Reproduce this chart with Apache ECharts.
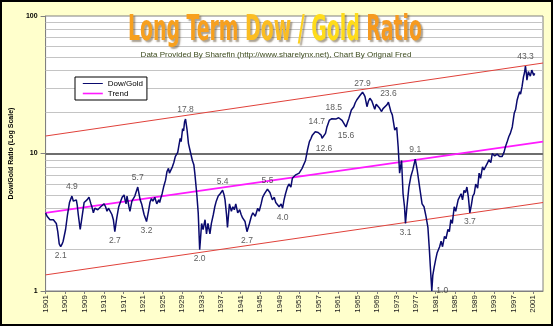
<!DOCTYPE html>
<html>
<head>
<meta charset="utf-8">
<script src="https://cdn.jsdelivr.net/npm/echarts@6/dist/echarts.min.js"></script>
<style>
  html, body { margin: 0; padding: 0; background: #FFFFCC; }
  #chart { width: 553px; height: 326px; }
</style>
</head>
<body>
<div id="chart"></div>
<script>
// Dow / Gold ratio, [year, ratio]
const dowGold = [
  [1901.0,3.7],[1901.3,3.5],[1901.6,3.4],[1901.9,3.3],[1902.2,3.2],[1902.6,3.3],[1902.9,3.2],[1903.2,3.1],
  [1903.5,2.7],[1903.8,2.2],[1904.1,2.1],[1904.4,2.2],[1904.6,2.3],[1905.1,2.8],[1905.5,3.6],[1905.9,4.4],
  [1906.1,4.6],[1906.4,4.9],[1906.7,4.5],[1906.9,4.6],[1907.3,4.6],[1907.5,4.2],[1907.7,3.6],[1908.1,2.8],
  [1908.5,3.5],[1908.9,4.4],[1909.2,4.5],[1909.5,4.6],[1909.9,4.8],[1910.3,4.3],[1910.5,4.1],[1910.8,3.7],
  [1911.1,4.0],[1911.4,4.1],[1911.7,3.9],[1912.0,3.8],[1912.3,4.1],[1912.6,4.0],[1913.0,4.3],[1913.3,4.1],
  [1913.6,3.8],[1913.9,4.0],[1914.2,4.0],[1914.6,3.6],[1914.9,3.3],[1915.2,2.7],[1915.6,3.4],[1916.0,4.1],
  [1916.4,4.5],[1916.7,4.8],[1917.1,5.0],[1917.3,4.6],[1917.5,4.3],[1917.7,4.9],[1917.9,4.8],[1918.1,4.1],
  [1918.3,3.8],[1918.7,4.5],[1919.0,4.6],[1919.3,4.9],[1919.6,5.3],[1919.9,5.7],[1920.2,5.0],[1920.4,4.6],
  [1920.7,4.3],[1920.9,4.0],[1921.2,3.6],[1921.7,3.2],[1922.1,3.8],[1922.4,4.4],[1922.7,4.7],[1923.0,4.5],
  [1923.4,4.8],[1923.8,4.3],[1924.2,4.6],[1924.4,4.4],[1924.6,4.7],[1924.9,5.1],[1925.2,5.7],[1925.6,6.4],
  [1925.9,7.4],[1926.2,7.8],[1926.4,7.2],[1926.6,7.4],[1927.0,8.0],[1927.3,8.6],[1927.6,9.5],[1927.9,9.3],
  [1928.1,10.2],[1928.3,11.2],[1928.6,12.9],[1928.8,12.2],[1929.1,15.2],[1929.3,14.6],[1929.5,17.0],[1929.7,17.8],
  [1930.0,15.0],[1930.1,14.8],[1930.3,11.8],[1930.6,10.6],[1930.9,10.9],[1931.1,8.9],[1931.4,8.3],[1931.6,7.2],
  [1932.0,5.1],[1932.3,3.7],[1932.6,2.0],[1933.0,3.1],[1933.3,2.8],[1933.7,3.3],[1934.0,2.6],[1934.3,3.1],
  [1934.7,2.6],[1935.0,3.1],[1935.4,3.6],[1935.7,4.1],[1936.0,4.5],[1936.4,4.9],[1936.8,5.1],[1937.3,5.4],
  [1937.6,5.0],[1937.8,4.6],[1938.1,3.6],[1938.3,2.9],[1938.7,4.3],[1939.1,3.8],[1939.4,4.1],[1939.7,3.9],
  [1940.0,4.3],[1940.4,3.7],[1940.8,3.9],[1941.1,3.6],[1941.4,3.4],[1941.9,3.2],[1942.3,2.7],[1942.8,3.1],
  [1943.2,3.5],[1943.5,3.7],[1944.0,3.5],[1944.5,4.0],[1944.8,3.8],[1945.2,4.3],[1945.5,4.8],[1945.9,5.1],
  [1946.5,5.5],[1947.0,5.2],[1947.5,4.6],[1947.9,4.8],[1948.2,4.4],[1948.5,4.3],[1948.9,4.1],[1949.3,4.3],
  [1949.6,4.0],[1949.9,4.6],[1950.2,5.1],[1950.6,5.7],[1950.9,6.0],[1951.3,5.7],[1951.6,6.6],[1952.0,6.4],
  [1952.3,7.0],[1952.7,6.8],[1953.0,7.2],[1953.3,7.0],[1953.6,7.8],[1954.0,7.9],[1954.3,8.9],[1954.7,10.6],
  [1955.1,12.2],[1955.4,12.8],[1955.7,13.6],[1956.0,13.9],[1956.3,14.4],[1956.6,14.7],[1956.9,14.2],[1957.2,14.3],
  [1957.5,13.6],[1957.7,12.9],[1958.1,12.6],[1958.4,14.0],[1958.7,15.6],[1959.2,17.5],[1959.7,17.9],[1960.1,18.5],
  [1960.5,17.8],[1960.8,17.5],[1961.1,18.2],[1961.4,17.9],[1961.8,17.4],[1962.1,17.0],[1962.6,15.6],[1962.9,16.8],
  [1963.2,18.0],[1963.7,20.7],[1964.2,21.9],[1964.5,23.4],[1964.8,24.5],[1965.2,25.3],[1965.5,26.5],[1966.0,27.9],
  [1966.3,26.8],[1966.5,25.9],[1966.9,21.9],[1967.2,24.0],[1967.5,25.2],[1967.9,24.1],[1968.2,23.5],[1968.5,21.0],
  [1968.8,22.8],[1969.2,22.5],[1969.5,21.3],[1969.9,20.2],[1970.2,21.2],[1970.6,21.9],[1971.0,22.6],[1971.3,23.6],
  [1971.6,21.5],[1971.8,20.2],[1972.1,19.1],[1972.3,18.5],[1972.6,14.8],[1973.0,15.5],[1973.3,11.2],[1973.6,7.2],
  [1974.0,8.9],[1974.3,5.1],[1974.6,4.1],[1974.8,3.1],[1975.1,4.1],[1975.5,5.7],[1975.9,6.8],[1976.3,7.6],
  [1976.8,9.1],[1977.2,7.6],[1977.7,5.7],[1978.2,4.3],[1978.6,4.1],[1979.0,3.5],[1979.4,2.9],[1979.7,2.0],
  [1979.9,1.5],[1980.2,1.0],[1980.4,1.3],[1980.7,1.5],[1981.0,1.7],[1981.3,1.9],[1981.8,2.1],[1982.1,2.3],
  [1982.4,2.1],[1982.8,2.5],[1983.1,2.4],[1983.5,2.8],[1983.8,2.7],[1984.1,3.3],[1984.4,3.1],[1984.8,4.1],
  [1985.1,3.8],[1985.6,4.6],[1986.2,5.1],[1986.5,4.6],[1986.8,5.4],[1987.1,5.2],[1987.4,5.7],[1987.7,4.8],
  [1988.0,3.7],[1988.3,4.2],[1988.6,4.9],[1988.9,5.1],[1989.2,6.0],[1989.6,5.6],[1989.9,7.2],[1990.2,6.6],
  [1990.6,8.0],[1990.9,7.6],[1991.2,8.0],[1991.6,8.5],[1991.9,9.0],[1992.3,8.6],[1992.6,10.0],[1993.1,9.6],
  [1993.6,9.9],[1994.1,9.5],[1994.6,9.5],[1995.0,10.2],[1995.3,11.2],[1995.6,12.0],[1996.0,13.3],[1996.3,14.0],
  [1996.7,15.6],[1996.9,17.5],[1997.1,19.6],[1997.4,21.0],[1997.7,24.5],[1997.9,26.0],[1998.2,28.1],[1998.4,27.0],
  [1998.7,30.6],[1999.0,36.1],[1999.2,38.5],[1999.4,43.3],[1999.6,38.0],[1999.7,34.2],[2000.0,39.4],[2000.4,36.5],
  [2000.7,40.4],[2001.1,37.0],[2001.3,38.2]
];

// Log-linear trend and channel bounds at the two ends of the axis
const trendYears = [1901, 2003];
const trendValues = [3.7, 12.2];
const upperChannel = [13.4, 45.5];
const lowerChannel = [1.31, 4.4];

// Turning points that carry a value callout, and where the text sits
const calloutYears = [1904.1, 1906.4, 1915.2, 1919.9, 1921.7, 1929.7, 1932.6, 1937.3, 1942.3, 1946.5, 1949.6,
  1956.6, 1958.1, 1960.1, 1962.6, 1966.0, 1971.3, 1974.8, 1976.8, 1980.2, 1988.0, 1999.4];
const calloutSides = ['bottom', 'top', 'bottom', 'top', 'bottom', 'top', 'bottom', 'top', 'bottom', 'top', 'bottom',
  'top', 'bottom', 'top', 'bottom', 'top', 'top', 'bottom', 'top', 'right', 'bottom', 'top'];

// Axis ticks
const yearTicks = [1901, 1905, 1909, 1913, 1917, 1921, 1925, 1929, 1933, 1937, 1941, 1945, 1949,
  1953, 1957, 1961, 1965, 1969, 1973, 1977, 1981, 1985, 1989, 1993, 1997, 2001];
const minorGridValues = [2, 3, 4, 5, 6, 7, 8, 9, 20, 30, 40, 50, 60, 70, 80, 90];
const majorGridValues = [10];

const FONT = '"Liberation Sans", Arial, sans-serif';

const pairUp = (xs, ys) => xs.map((x, i) => [x, ys[i]]);

const callouts = calloutYears.map((yr, i) => {
  const pt = dowGold.find(p => p[0] === yr);
  return { value: pt, label: { position: calloutSides[i] } };
});

// Banner title, squeezed horizontally into a condensed display face
const titleText = 'Long Term Dow / Gold Ratio';
const titleFont = "bold 35px 'DejaVu Sans Condensed', 'DejaVu Sans', sans-serif";
const measureCtx = document.createElement('canvas').getContext('2d');
measureCtx.font = titleFont;
const titleScale = 294 / measureCtx.measureText(titleText).width;

const richWord = (fill) => ({
  fill: fill, font: titleFont,
  textShadowColor: 'rgba(90,70,40,0.5)', textShadowBlur: 1.5,
  textShadowOffsetX: 2, textShadowOffsetY: 2
});

const chart = echarts.init(document.getElementById('chart'), null, { renderer: 'canvas' });

chart.setOption({
  animation: false,
  backgroundColor: '#FFFFCC',
  textStyle: { fontFamily: FONT },
  grid: {
    left: 41, right: 10, top: 16, bottom: 35,
    show: true, backgroundColor: '#ffffff', borderColor: '#808080', borderWidth: 1
  },
  legend: {
    data: [
      { name: 'Dow/Gold', lineStyle: { width: 1 } },
      { name: 'Trend', lineStyle: { width: 1.6 } }
    ],
    orient: 'vertical',
    left: 75, top: 77,
    itemWidth: 20, itemHeight: 8, itemGap: 1,
    padding: [2, 4, 2, 7],
    borderColor: '#000', borderWidth: 1, borderRadius: 0,
    backgroundColor: '#ffffff',
    itemStyle: { opacity: 0 },
    textStyle: { fontFamily: FONT, fontSize: 8, color: '#000', lineHeight: 9 }
  },
  xAxis: {
    type: 'value', min: 1901, max: 2003,
    axisLine: { show: true, lineStyle: { color: '#808080' } },
    axisTick: { show: true, customValues: yearTicks, length: 3, lineStyle: { color: '#808080' } },
    axisLabel: {
      customValues: yearTicks, rotate: 90, fontSize: 8, color: '#222', margin: 4, fontFamily: FONT,
      formatter: v => String(Math.round(v))
    },
    splitLine: { show: false }
  },
  yAxis: {
    type: 'log', logBase: 10, min: 1, max: 100,
    name: 'Dow/Gold Ratio (Log Scale)', nameLocation: 'middle', nameRotate: 90, nameGap: 22,
    nameTextStyle: { fontSize: 7, fontWeight: 'bold', color: '#000', fontFamily: FONT },
    axisLine: { show: true, lineStyle: { color: '#808080' } },
    axisTick: { show: true, length: 5, lineStyle: { color: '#808080' } },
    axisLabel: { fontSize: 7, fontWeight: 'bold', color: '#000', margin: 8, fontFamily: FONT },
    splitLine: { show: false }
  },
  series: [
    {
      name: 'Lower channel', type: 'line', silent: true, symbol: 'none',
      data: pairUp(trendYears, lowerChannel),
      lineStyle: { color: '#e0413a', width: 1 },
      markLine: {
        z: 1, silent: true, symbol: ['none', 'none'], label: { show: false },
        lineStyle: { color: '#c4c4c4', width: 1, type: 'solid' },
        data: minorGridValues.map(v => ({ yAxis: v })).concat(
          majorGridValues.map(v => ({ yAxis: v, lineStyle: { color: '#6e6e6e', width: 2, type: 'solid' } })))
      }
    },
    {
      name: 'Upper channel', type: 'line', silent: true, symbol: 'none',
      data: pairUp(trendYears, upperChannel),
      lineStyle: { color: '#e0413a', width: 1 }
    },
    {
      name: 'Trend', type: 'line', silent: true, symbol: 'none',
      data: pairUp(trendYears, trendValues),
      itemStyle: { color: '#ff1aff' },
      lineStyle: { color: '#ff1aff', width: 2 }
    },
    {
      name: 'Dow/Gold', type: 'line', symbol: 'none', z: 3,
      data: dowGold,
      itemStyle: { color: '#0a0a6e' },
      lineStyle: { color: '#0a0a6e', width: 1.5 }
    },
    {
      name: 'Callouts', type: 'scatter', z: 4, silent: true,
      symbolSize: 1, itemStyle: { color: 'rgba(0,0,0,0)' },
      data: callouts,
      label: {
        show: true, distance: 4, fontSize: 8.5, color: '#333', fontFamily: FONT,
        formatter: p => p.value[1].toFixed(1)
      }
    }
  ],
  graphic: [
    {
      type: 'text', z: 20, silent: true,
      x: 275, y: 31, scaleX: titleScale, scaleY: 1,
      style: {
        text: '{a|Long Term }{b|Dow }{c|/ }{d|Gold }{e|Ratio}',
        font: titleFont,
        align: 'center', verticalAlign: 'middle',
        textAlign: 'center', textVerticalAlign: 'middle',
        rich: {
          a: richWord('#f7a01e'),
          b: richWord('#fbbd22'),
          c: richWord('#fdd01e'),
          d: richWord('#ffdc1a'),
          e: richWord('#f69a1f')
        }
      }
    },
    {
      type: 'text', z: 20, silent: true,
      x: 276, y: 55,
      style: {
        text: 'Data Provided By Sharefin (http://www.sharelynx.net), Chart By Orignal Fred',
        font: '8px "Liberation Sans", Arial, sans-serif',
        fill: '#3b4a1c',
        align: 'center', verticalAlign: 'middle',
        textAlign: 'center', textVerticalAlign: 'middle'
      }
    },
    {
      type: 'rect', z: 30, silent: true,
      shape: { x: 1, y: 1, width: 551, height: 324 },
      style: { fill: 'none', stroke: '#000', lineWidth: 2 }
    }
  ]
});
</script>
</body>
</html>
